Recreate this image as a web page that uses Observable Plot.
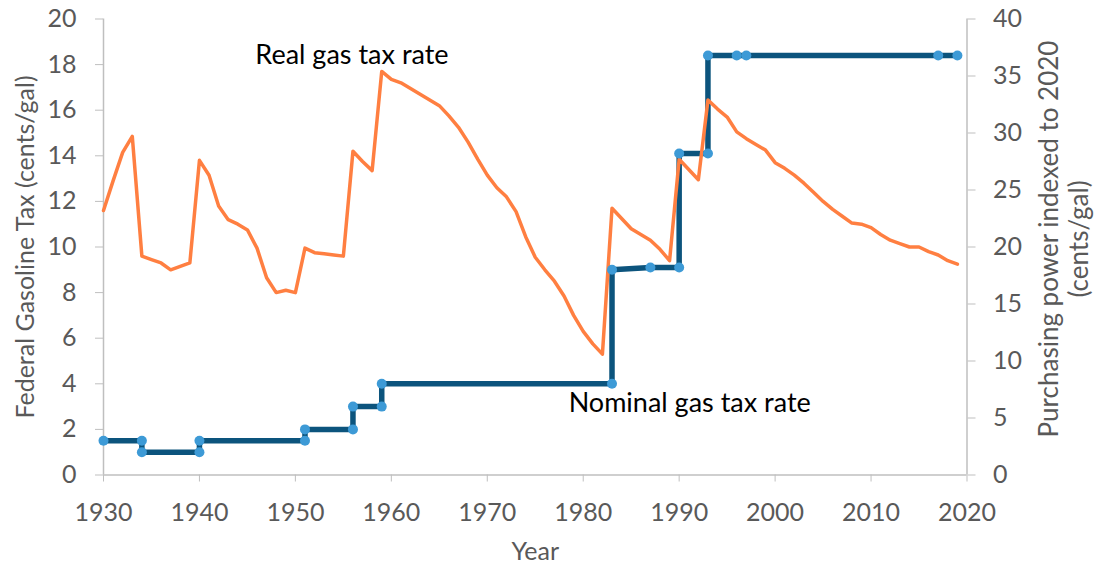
<!DOCTYPE html>
<html><head><meta charset="utf-8">
<script src="https://cdn.jsdelivr.net/npm/d3@7"></script>
<script src="https://cdn.jsdelivr.net/npm/@observablehq/plot@0.6"></script>
<style>
html,body{margin:0;padding:0;background:#fff;}
#chart{width:1097px;height:565px;}
</style></head><body><div id="chart"></div>
<script>
// Real gas tax rate (purchasing power indexed to 2020, cents/gal) — right axis
const realYears = [1930,1931,1932,1933,1934,1935,1936,1937,1938,1939,
  1940,1941,1942,1943,1944,1945,1946,1947,1948,1949,
  1950,1951,1952,1953,1954,1955,1956,1957,1958,1959,
  1960,1961,1962,1963,1964,1965,1966,1967,1968,1969,
  1970,1971,1972,1973,1974,1975,1976,1977,1978,1979,
  1980,1981,1982,1983,1984,1985,1986,1987,1988,1989,
  1990,1991,1992,1993,1994,1995,1996,1997,1998,1999,
  2000,2001,2002,2003,2004,2005,2006,2007,2008,2009,
  2010,2011,2012,2013,2014,2015,2016,2017,2018,2019];
const realRate = [23.2,25.8,28.3,29.7,19.2,18.9,18.6,18.0,18.3,18.6,
  27.6,26.3,23.6,22.4,22.0,21.5,19.9,17.3,16.0,16.2,
  16.0,19.9,19.5,19.4,19.3,19.2,28.4,27.5,26.7,35.4,
  34.7,34.4,33.9,33.4,32.9,32.4,31.5,30.5,29.2,27.7,
  26.3,25.2,24.4,23.1,20.9,19.1,18.0,17.0,15.7,14.0,
  12.6,11.5,10.6,23.4,22.5,21.6,21.1,20.6,19.8,18.8,
  27.7,26.8,25.9,32.9,32.1,31.4,30.1,29.5,29.0,28.5,
  27.4,26.9,26.3,25.6,24.8,24.0,23.3,22.7,22.1,22.0,
  21.7,21.1,20.6,20.3,20.0,20.0,19.6,19.3,18.8,18.5];

// Nominal federal gas tax (cents/gal) — left axis, points before/after each change
const nominalYears = [1930,1934,1934,1940,1940,1951,1951,1956,1956,1959,1959,1983,1983,1987,1990,1990,1993,1993,1996,1997,2017,2019];
const nominalRate  = [1.5,1.5,1.0,1.0,1.5,1.5,2.0,2.0,3.0,3.0,4.0,4.0,9.0,9.1,9.1,14.1,14.1,18.4,18.4,18.4,18.4,18.4];

const xTicks = [1930,1940,1950,1960,1970,1980,1990,2000,2010,2020];
const leftTicks = [0,2,4,6,8,10,12,14,16,18,20];
const rightTicks = [0,5,10,15,20,25,30,35,40];

const annotText = ["Real gas tax rate","Nominal gas tax rate"];
const annotYear = [1955.9,1991.1];
const annotLeftValue = [18.4,3.14];

const xTitle = "Year";
const leftTitle = "Federal Gasoline Tax (cents/gal)";
const rightTitle = "Purchasing power indexed to 2020\n(cents/gal)";

const real = realYears.map((year,i)=>({year, value: realRate[i]/2}));
const nominal = nominalYears.map((year,i)=>({year, value: nominalRate[i]}));
const annots = annotText.map((text,i)=>({text, year: annotYear[i], value: annotLeftValue[i]}));

const axisGray = "#BFBFBF";
const textGray = "#595959";

const chart = Plot.plot({
  width: 1097, height: 565,
  marginLeft: 103, marginRight: 130.5, marginTop: 18.5, marginBottom: 90.5,
  style: {fontFamily: "Lato, 'Open Sans', sans-serif", fontSize: "25px", color: textGray, background: "#fff", overflow: "visible"},
  x: {domain: [1930, 2020]},
  y: {domain: [0, 20]},
  marks: [
    Plot.ruleY([0], {stroke: axisGray, strokeWidth: 1.5}),
    Plot.ruleX([1930], {stroke: axisGray, strokeWidth: 1.5}),
    Plot.ruleX([2020], {stroke: axisGray, strokeWidth: 1.5}),
    Plot.axisX({ticks: xTicks, tickFormat: d => String(d), tickSize: 7, tickPadding: 21, stroke: axisGray, fill: textGray, label: null}),
    Plot.axisY({anchor: "left", ticks: leftTicks, tickFormat: d => String(d), tickSize: 8, tickPadding: 19, stroke: axisGray, fill: textGray, label: null}),
    Plot.axisY({anchor: "right", ticks: rightTicks.map(v => v/2), tickFormat: d => String(Math.round(d*2)), tickSize: 8, tickPadding: 18, stroke: axisGray, fill: textGray, label: null}),
    Plot.line(nominal, {x: "year", y: "value", stroke: "#0C547D", strokeWidth: 5.5, strokeLinejoin: "miter"}),
    Plot.line(real, {x: "year", y: "value", stroke: "#FF7F41", strokeWidth: 3.5}),
    Plot.dot(nominal, {x: "year", y: "value", r: 5, fill: "#3D9AD6", stroke: "none"}),
    Plot.text(annots, {x: "year", y: "value", text: "text", fontSize: 27, fill: "#000", textAnchor: "middle", lineAnchor: "middle"}),
    Plot.text([xTitle], {frameAnchor: "bottom", dy: 76.5, fill: textGray, lineAnchor: "middle"}),
    Plot.text([leftTitle], {frameAnchor: "left", rotate: -90, dx: -78, fill: textGray, lineAnchor: "middle", textAnchor: "middle"}),
    Plot.text([rightTitle], {frameAnchor: "right", rotate: -90, dx: 96, dy: -8, fontSize: 26, fill: textGray, lineAnchor: "middle", textAnchor: "middle", lineHeight: 1.15})
  ]
});
document.getElementById("chart").appendChild(chart);
</script>
</body></html>
